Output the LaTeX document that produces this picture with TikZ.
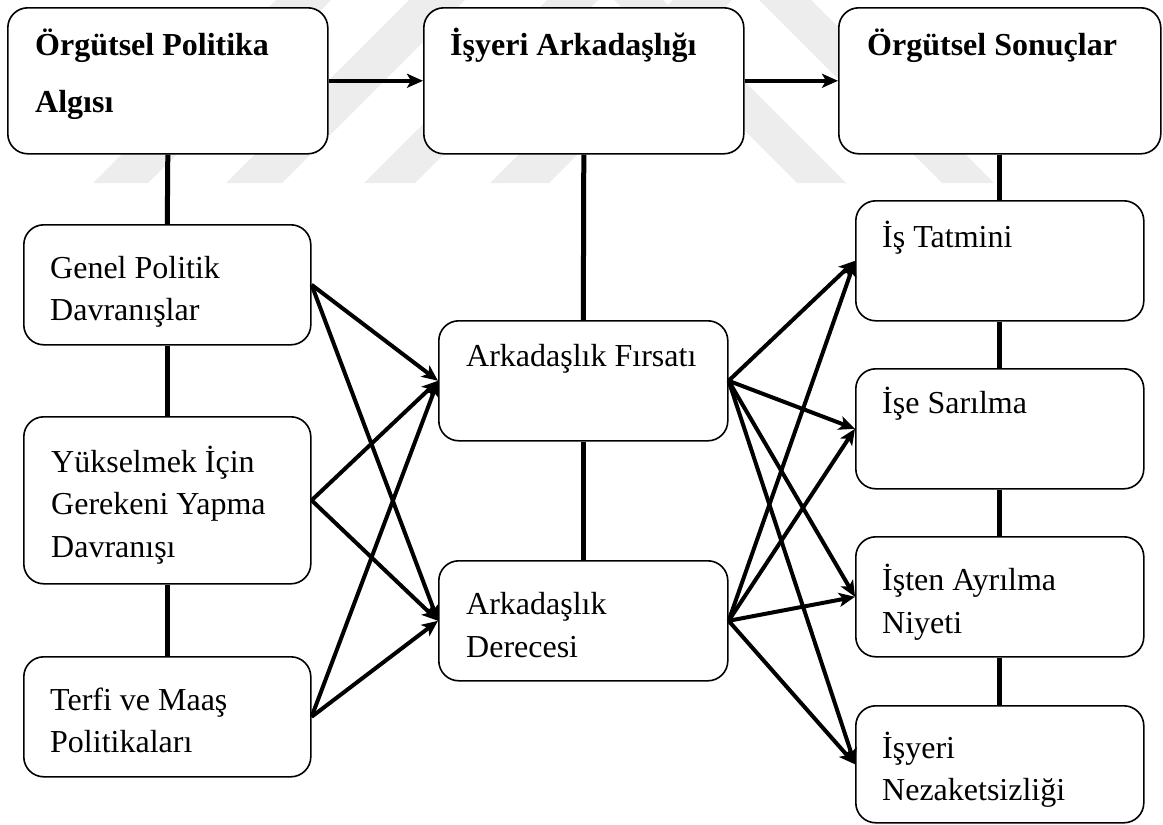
\documentclass[tikz,border=0pt]{standalone}
\usepackage{fontspec}
\setmainfont{Liberation Serif}
\usetikzlibrary{arrows.meta}

\tikzset{
  box/.style={draw=black, line width=1.6pt, rounded corners=20pt, fill=white,
              inner sep=0pt, anchor=north west},
  txt/.style={anchor=base west, inner sep=0pt, font=\fontsize{32}{42}\selectfont},
  ttl/.style={txt, font=\fontsize{32}{42}\selectfont\bfseries},
  link/.style={line width=5pt},
  flow/.style={line width=4pt, -{Stealth[length=16pt,width=14pt,inset=4pt]}},
  bgband/.style={fill=black!7, draw=none}
}

\begin{document}
\begin{tikzpicture}[x=1pt,y=-1pt]
\useasboundingbox (0,0) rectangle (1163,825);

% faint diagonal background bands
\fill[bgband] (93,183)  -- (148,183) -- (331,0) -- (276,0) -- cycle;
\fill[bgband] (226,183) -- (282,183) -- (465,0) -- (409,0) -- cycle;
\fill[bgband] (364,183) -- (415,183) -- (598,0) -- (547,0) -- cycle;
\fill[bgband] (490,183) -- (549,183) -- (732,0) -- (673,0) -- cycle;
\fill[bgband] (797,183) -- (846,183) -- (663,0) -- (614,0) -- cycle;
\fill[bgband] (942,183) -- (994,183) -- (811,0) -- (759,0) -- cycle;

% column headings
\node[box, minimum width=320pt, minimum height=146pt] (A) at (7,7) {};
\node[box, minimum width=320pt, minimum height=146pt] (B) at (423,7) {};
\node[box, minimum width=322pt, minimum height=146pt] (C) at (838,7) {};

% left column
\node[box, minimum width=287pt, minimum height=120pt] (G) at (23,224) {};
\node[box, minimum width=287pt, minimum height=167pt] (Y) at (23,416) {};
\node[box, minimum width=287pt, minimum height=120pt] (T) at (23,656) {};

% middle column
\node[box, minimum width=289pt, minimum height=120pt] (F) at (438,320) {};
\node[box, minimum width=289pt, minimum height=120pt] (D) at (438,560) {};

% right column
\node[box, minimum width=288pt, minimum height=120pt] (S1) at (855,200) {};
\node[box, minimum width=288pt, minimum height=120pt] (S2) at (855,368) {};
\node[box, minimum width=288pt, minimum height=120pt] (S3) at (855,536) {};
\node[box, minimum width=288pt, minimum height=117pt] (S4) at (855,705) {};

% texts
\node[ttl] (a1) at (35,55) {Örgütsel Politika};
\node[ttl] (a2) at (35,112) {Algısı};
\node[ttl] (b1) at (450,55) {İşyeri Arkadaşlığı};
\node[ttl] (c1) at (867,55) {Örgütsel Sonuçlar};

\node[txt] (g1) at (50,278) {Genel Politik};
\node[txt] (g2) at (50,320) {Davranışlar};
\node[txt] (y1) at (51,472) {Yükselmek İçin};
\node[txt] (y2) at (51,514) {Gerekeni Yapma};
\node[txt] (y3) at (51,557) {Davranışı};
\node[txt] (t1) at (50,710) {Terfi ve Maaş};
\node[txt] (t2) at (50,752) {Politikaları};

\node[txt] (f1) at (466,366) {Arkadaşlık Fırsatı};
\node[txt] (d1) at (466,614) {Arkadaşlık};
\node[txt] (d2) at (466,657) {Derecesi};

\node[txt] (s11) at (882,247) {İş Tatmini};
\node[txt] (s21) at (882,413) {İşe Sarılma};
\node[txt] (s31) at (882,590) {İşten Ayrılma};
\node[txt] (s32) at (882,633) {Niyeti};
\node[txt] (s41) at (882,758) {İşyeri};
\node[txt] (s42) at (882,800) {Nezaketsizliği};

% vertical links
\draw[link] (A.south) -- (G.north);
\draw[link] (G.south) -- (Y.north);
\draw[link] (Y.south) -- (T.north);
\draw[link] (B.south) -- (F.north);
\draw[link] (F.south) -- (D.north);
\draw[link] (C.south) -- (S1.north);
\draw[link] (S1.south) -- (S2.north);
\draw[link] (S2.south) -- (S3.north);
\draw[link] (S3.south) -- (S4.north);

% heading arrows
\draw[flow] (A.east) -- (B.west);
\draw[flow] (B.east) -- (C.west);

% left to middle
\foreach \s in {G,Y,T}{
  \draw[flow] (\s.east) -- (F.west);
  \draw[flow] (\s.east) -- (D.west);
}

% middle to right
\foreach \m in {F,D}{
  \foreach \t in {S1,S2,S3,S4}{
    \draw[flow] (\m.east) -- (\t.west);
  }
}
\end{tikzpicture}
\end{document}
